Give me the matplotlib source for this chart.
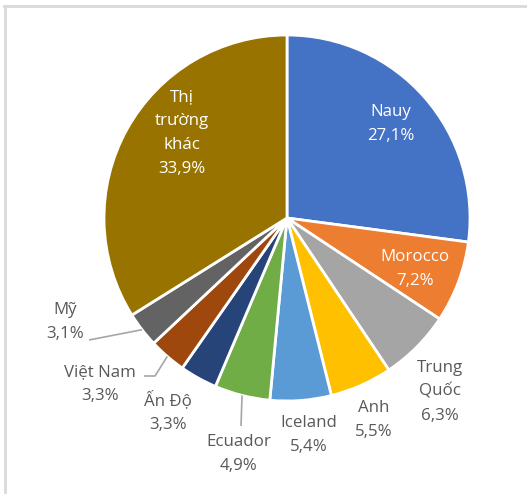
import matplotlib
matplotlib.use("Agg")
import matplotlib.pyplot as plt
import numpy as np

# ---- data ----
categories = ["Nauy", "Morocco", "Trung\nQuốc", "Anh", "Iceland", "Ecuador",
              "Ấn Độ", "Việt Nam", "Mỹ", "Thị\ntrường\nkhác"]
shares = [27.1, 7.2, 6.3, 5.5, 5.4, 4.9, 3.3, 3.3, 3.1, 33.9]
share_labels = ["27,1%", "7,2%", "6,3%", "5,5%", "5,4%", "4,9%",
                "3,3%", "3,3%", "3,1%", "33,9%"]

# ---- style / layout ----
colors = ["#4472C4", "#ED7D31", "#A5A5A5", "#FFC000", "#5B9BD5", "#70AD47",
          "#264478", "#9E480E", "#636363", "#997300"]
W, H = 527, 495
CX, CY, R = 287, 218, 183   # pie centre/radius in pixel coords (y down)
# label centres (pixel coords, y down)
label_pos = [(391, 124), (415, 269), (440, 392), (374, 420), (309, 435),
             (239, 454), (168, 412), (100, 384), (65, 322), (182, 133)]
inside = [True, True, False, False, False, False, False, False, False, True]
# leader lines: wedge index -> points from label side (pixel coords)
leaders = {5: [(241, 426)], 7: [(144, 376), (155, 376)], 8: [(89, 340)]}

plt.rcParams['font.family'] = ['Open Sans', 'DejaVu Sans']

fig = plt.figure(figsize=(W / 100, H / 100), dpi=100)
ax = fig.add_axes([0, 0, 1, 1])


def Y(py):
    return H - py


wedges, _ = ax.pie(shares, colors=colors, startangle=90, counterclock=False,
                   center=(CX, Y(CY)), radius=R,
                   wedgeprops=dict(edgecolor='white', linewidth=2))
ax.set_xlim(0, W)
ax.set_ylim(0, H)
ax.set_aspect('equal')
ax.axis('off')

for i, (cat, lab) in enumerate(zip(categories, share_labels)):
    px, py = label_pos[i]
    col = 'white' if inside[i] else '#595959'
    ax.text(px, Y(py), cat + "\n" + lab, ha='center', va='center',
            fontsize=12.2, color=col, linespacing=1.65)

for i, pts in leaders.items():
    w = wedges[i]
    mid = np.deg2rad((w.theta1 + w.theta2) / 2)
    ex = CX + R * np.cos(mid)
    ey = Y(CY) + R * np.sin(mid)
    seq_x = [p[0] for p in pts] + [ex]
    seq_y = [Y(p[1]) for p in pts] + [ey]
    ax.plot(seq_x, seq_y, color='#A6A6A6', linewidth=1.2, solid_capstyle='butt')

# frame lines (left and top)
ax.plot([5, 5], [Y(6), Y(492)], color='#D9D9D9', linewidth=2)
ax.plot([4, W], [Y(6), Y(6)], color='#D9D9D9', linewidth=2)

fig.savefig("out.png", dpi=100)
